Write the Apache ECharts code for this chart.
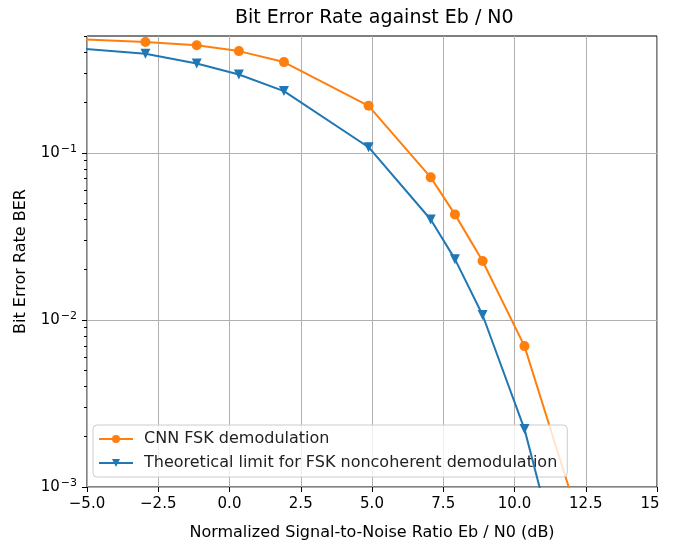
<!DOCTYPE html>
<html>
<head>
<meta charset="utf-8">
<script src="https://cdn.jsdelivr.net/npm/echarts@6/dist/echarts.min.js"></script>
<style>html,body{margin:0;padding:0;background:#fff}#c{width:676px;height:546px}</style>
</head>
<body>
<div id="c"></div>
<script>
const snr = [-6, -2.95, -1.15, 0.33, 1.91, 4.88, 7.06, 7.91, 8.88, 10.35, 11.91];
const berCnn = [0.485, 0.46, 0.44, 0.406, 0.349, 0.191, 0.0713, 0.0428, 0.0225, 0.00697, 0.00099];
const berTheory = [0.43, 0.392, 0.342, 0.294, 0.234, 0.108, 0.0399, 0.0231, 0.0107, 0.00222, 0.00021];
const yMajor = [0.001, 0.01, 0.1];
const yMinor = [0.002,0.003,0.004,0.005,0.006,0.007,0.008,0.009,0.02,0.03,0.04,0.05,0.06,0.07,0.08,0.09,0.2,0.3,0.4,0.5];
const seriesNames = ['CNN FSK demodulation', 'Theoretical limit for FSK noncoherent demodulation'];

const FONT = 'DejaVu Sans';
const chart = echarts.init(document.getElementById('c'), null, {renderer: 'canvas'});
const pair = (xs, ys) => xs.map((x, i) => [x, ys[i]]);

chart.setOption({
  animation: false,
  backgroundColor: '#fff',
  textStyle: {fontFamily: FONT},
  title: {
    text: 'Bit Error Rate against Eb / N0',
    left: 230, top: 4,
    textStyle: {fontFamily: FONT, fontSize: 19, fontWeight: 'normal', color: '#000'}
  },
  grid: {
    left: 87, right: 19, top: 36, bottom: 57,
    show: true, borderColor: '#000', borderWidth: 1, backgroundColor: 'transparent'
  },
  legend: {
    orient: 'vertical', left: 93, top: 425,
    data: seriesNames,
    backgroundColor: 'rgba(255,255,255,0.8)',
    borderColor: '#cccccc', borderWidth: 1, borderRadius: 4,
    padding: [6, 10, 6, 5],
    itemWidth: 34, itemHeight: 10, itemGap: 8,
    textStyle: {fontFamily: FONT, fontSize: 16, color: '#222', padding: [0, 0, 0, 6]}
  },
  xAxis: {
    type: 'value', min: -5, max: 15, interval: 2.5,
    name: 'Normalized Signal-to-Noise Ratio Eb / N0 (dB)',
    nameLocation: 'middle', nameGap: 38,
    nameTextStyle: {fontFamily: FONT, fontSize: 16, color: '#000'},
    axisLine: {show: false, onZero: false},
    axisTick: {show: true, length: 5, lineStyle: {color: '#000', width: 1}},
    axisLabel: {
      fontFamily: FONT, fontSize: 15, color: '#000', margin: 10,
      formatter: v => v === 15 ? '{r|15}' : v.toFixed(1).replace('-', '\u2212'),
      rich: {r: {fontFamily: FONT, fontSize: 15, color: '#000', padding: [0, 14, 0, 0]}}
    },
    splitLine: {show: true, lineStyle: {color: '#b0b0b0', width: 1}}
  },
  yAxis: [{
    type: 'log', logBase: 10, min: 0.001, max: 0.5,
    name: 'Bit Error Rate BER',
    nameLocation: 'middle', nameGap: 58,
    nameTextStyle: {fontFamily: FONT, fontSize: 16, color: '#000'},
    axisLine: {show: false, onZero: false},
    axisTick: {show: true, length: 5, customValues: yMajor, lineStyle: {color: '#000', width: 1}},
    axisLabel: {
      customValues: yMajor, margin: 10,
      formatter: v => '{b|10}{s|\u2212' + Math.round(-Math.log10(v)) + '}',
      rich: {
        b: {fontFamily: FONT, fontSize: 15, color: '#000'},
        s: {fontFamily: FONT, fontSize: 11, color: '#000', padding: [0, 0, 8, 1]}
      }
    },
    splitLine: {show: true, lineStyle: {color: '#b0b0b0', width: 1}}
  }, {
    type: 'log', logBase: 10, min: 0.001, max: 0.5, position: 'left',
    axisLine: {show: false, onZero: false},
    axisTick: {show: true, length: 3, customValues: yMinor, lineStyle: {color: '#000', width: 1}},
    axisLabel: {show: false},
    splitLine: {show: false}
  }],
  series: [{
    name: seriesNames[0], type: 'line', yAxisIndex: 0,
    data: pair(snr, berCnn),
    symbol: 'circle', symbolSize: 10,
    lineStyle: {color: '#ff7f0e', width: 2},
    itemStyle: {color: '#ff7f0e'},
    clip: true, z: 3
  }, {
    name: seriesNames[1], type: 'line', yAxisIndex: 0,
    data: pair(snr, berTheory),
    symbol: 'triangle', symbolRotate: 180, symbolSize: 10,
    lineStyle: {color: '#1f77b4', width: 2},
    itemStyle: {color: '#1f77b4'},
    clip: true, z: 4
  }]
});
</script>
</body>
</html>
